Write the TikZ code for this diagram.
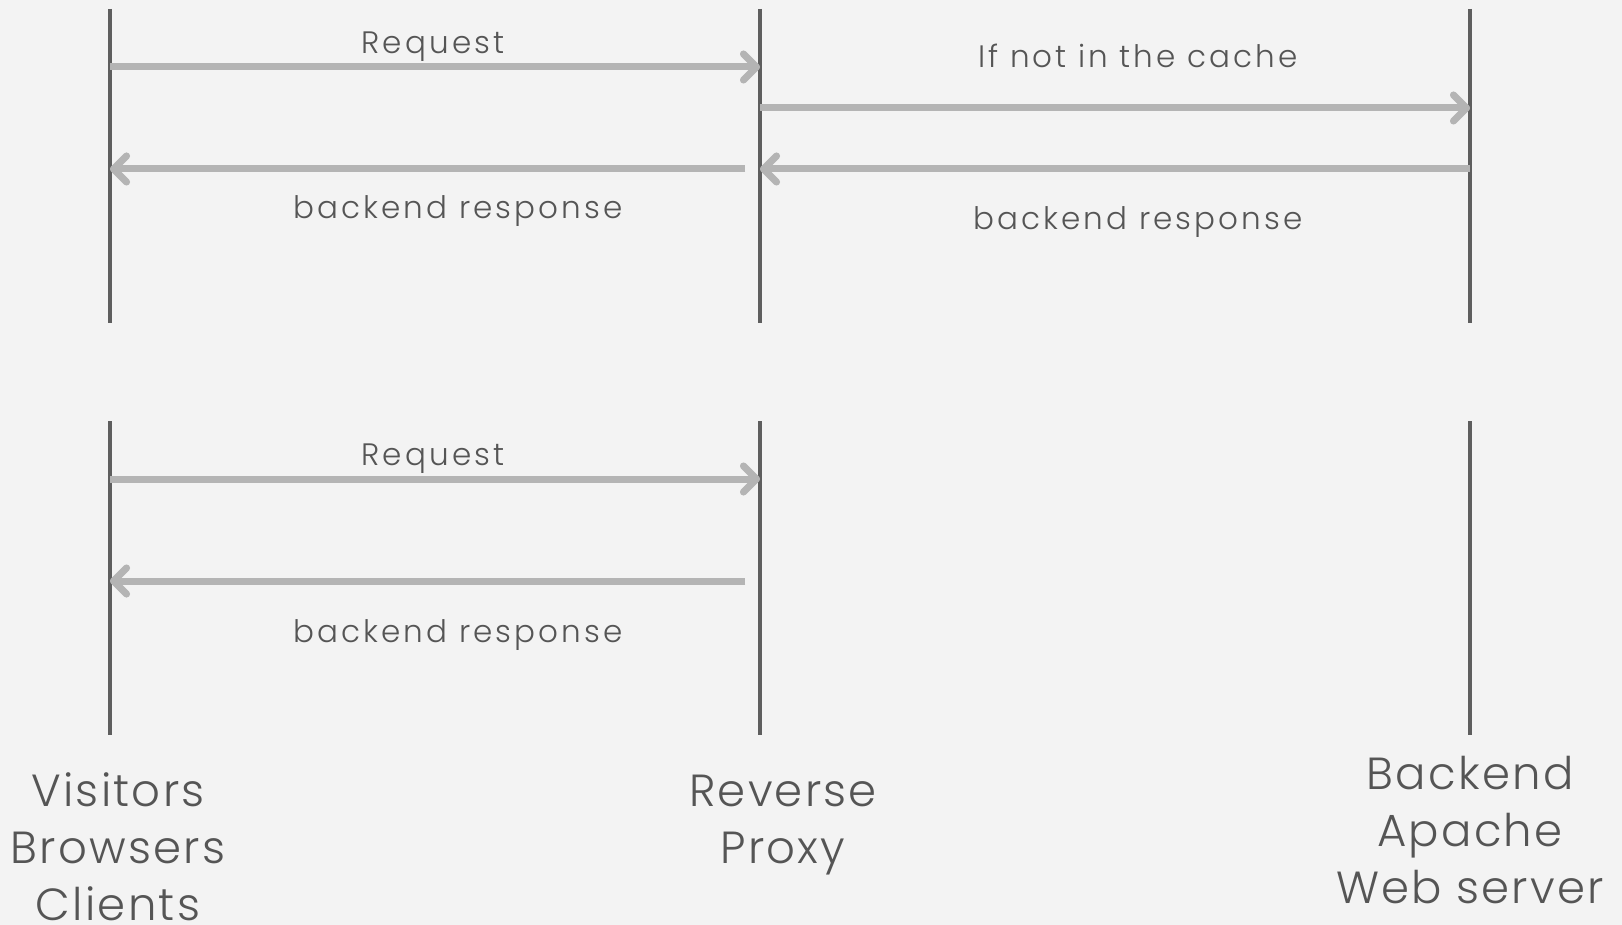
\documentclass[tikz,border=0pt]{standalone}
\usepackage{fontspec}
\setmainfont{Poppins}[UprightFont=* Light]
\newfontfamily\msgfont{Poppins}[UprightFont=* Light, LetterSpace=10]
\newfontfamily\actorfont{Poppins}[UprightFont=* Light, LetterSpace=5]
\usetikzlibrary{arrows.meta}
\definecolor{bg}{HTML}{F3F3F3}
\definecolor{life}{HTML}{5E5E5E}
\definecolor{msg}{HTML}{B4B4B4}
\definecolor{msgshade}{HTML}{C8C8C8}
\definecolor{txt}{HTML}{555555}
\begin{document}
\begin{tikzpicture}[x=1pt,y=-1pt,
  lifeline/.style={line width=4.5pt, draw=life},
  msgtip/.style={-{Straight Barb[length=13pt,width=26pt,line cap=round,line join=round]}},
  message/.style={line width=7pt, draw=msg, msgtip},
  msgshadow/.style={line width=7pt, draw=msgshade, msgtip, opacity=0.6, shift={(1,2.5)}},
  msglabel/.style={text=txt, font=\msgfont\fontsize{31}{37}\selectfont, inner sep=0pt, anchor=base},
  actor/.style={text=txt, font=\actorfont\fontsize{45}{57}\selectfont, align=center, inner sep=0pt, anchor=base}]
\fill[bg] (0,0) rectangle (1622,925);
\useasboundingbox (0,0) rectangle (1622,925);

% lifelines: clients, proxy, backend (upper and lower scenario)
\coordinate (c1t) at (110,9);   \coordinate (c1b) at (110,323);
\coordinate (p1t) at (760,9);   \coordinate (p1b) at (760,323);
\coordinate (s1t) at (1470,9);  \coordinate (s1b) at (1470,323);
\coordinate (c2t) at (110,421); \coordinate (c2b) at (110,735);
\coordinate (p2t) at (760,421); \coordinate (p2b) at (760,735);
\coordinate (s2t) at (1470,421);\coordinate (s2b) at (1470,735);
\foreach \a/\b in {c1t/c1b,p1t/p1b,s1t/s1b,c2t/c2b,p2t/p2b,s2t/s2b}
  \draw[lifeline] (\a) -- (\b);

% message end points
\coordinate (m1a) at (110,67);  \coordinate (m1b) at (760,67);
\coordinate (m2a) at (760,108); \coordinate (m2b) at (1470,108);
\coordinate (m3a) at (1470,169);\coordinate (m3b) at (760,169);
\coordinate (m4a) at (745,169); \coordinate (m4b) at (110,169);
\coordinate (m5a) at (110,479); \coordinate (m5b) at (760,479);
\coordinate (m6a) at (745,581); \coordinate (m6b) at (110,581);

% messages, each with a soft shade underneath
\foreach \a/\b in {m1a/m1b,m2a/m2b,m3a/m3b,m4a/m4b,m5a/m5b,m6a/m6b}{
  \draw[msgshadow] (\a) -- (\b);
  \draw[message] (\a) -- (\b);
}

% message labels
\node[msglabel] (l1) at (433,54)   {Request};
\node[msglabel] (l2) at (1138,68)  {If not in the cache};
\node[msglabel] (l3) at (458,219)  {backend response};
\node[msglabel] (l4) at (1138,230) {backend response};
\node[msglabel] (l5) at (433,465)  {Request};
\node[msglabel] (l6) at (458,642)  {backend response};

% participants (anchored at the baseline of the last line)
\node[actor] (clients) at (118,920)  {Visitors\\Browsers\\Clients};
\node[actor] (proxy)   at (783,863)  {Reverse\\Proxy};
\node[actor] (backend) at (1470,903) {Backend\\Apache\\Web server};
\end{tikzpicture}
\end{document}
